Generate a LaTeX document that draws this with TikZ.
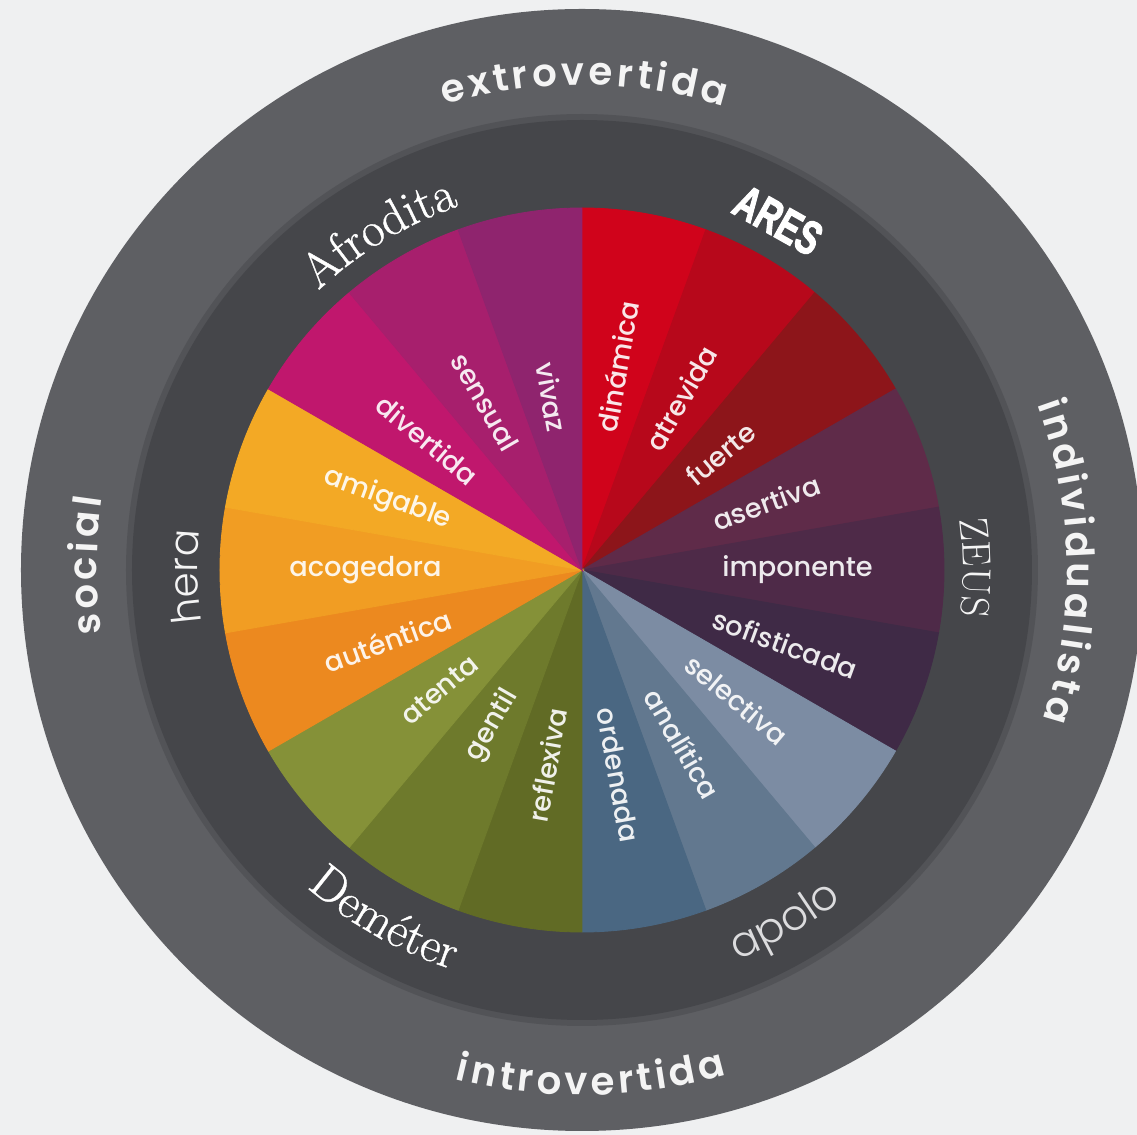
\documentclass[tikz,border=0pt]{standalone}
\usepackage{fontspec}
\usetikzlibrary{decorations.text}

\newfontfamily\traitfont{Poppins Medium}
\newfontfamily\outerfont{Poppins SemiBold}
\newfontfamily\thinfont{Poppins Light}
\newfontfamily\godserif{Latin Modern Roman}[FakeBold=0.8]
\newfontfamily\aresfont{Liberation Sans}[BoldFeatures={FakeBold=2.5}]

\definecolor{bg}{HTML}{EFF0F1}
\definecolor{outerring}{HTML}{5E5F63}
\definecolor{seam}{HTML}{525357}
\definecolor{innerring}{HTML}{45464A}
\definecolor{ringtxt}{HTML}{F4F4F4}
\definecolor{softtxt}{HTML}{DCDCDE}
\definecolor{cDinamica}{HTML}{D0031B}
\definecolor{cAtrevida}{HTML}{B7081B}
\definecolor{cFuerte}{HTML}{8D151A}
\definecolor{cAsertiva}{HTML}{5F2B49}
\definecolor{cImponente}{HTML}{4E2A48}
\definecolor{cSofisticada}{HTML}{3F2A46}
\definecolor{cSelectiva}{HTML}{7C8CA3}
\definecolor{cAnalitica}{HTML}{62788F}
\definecolor{cOrdenada}{HTML}{4A6782}
\definecolor{cReflexiva}{HTML}{616B25}
\definecolor{cGentil}{HTML}{6E7A2C}
\definecolor{cAtenta}{HTML}{859138}
\definecolor{cAutentica}{HTML}{EC891F}
\definecolor{cAcogedora}{HTML}{F19D23}
\definecolor{cAmigable}{HTML}{F3A925}
\definecolor{cDivertida}{HTML}{C0176D}
\definecolor{cSensual}{HTML}{A71F6D}
\definecolor{cVivaz}{HTML}{8F246E}

\newcommand\ringfont{\outerfont\fontsize{22}{22}\selectfont}

\begin{document}
\begin{tikzpicture}[x=0.02cm, y=0.02cm]
\tikzset{
    wedge/.style = {line width=0.5pt},
    trait/.style = {font=\traitfont\fontsize{15.5}{15.5}\selectfont, text=white, text opacity=0.9, inner sep=0pt},
    ringlabel/.style = {decorate, decoration={text along path, text align=fit to path, text color=ringtxt}},
    godlabel/.style = {decorate, decoration={text along path, text align=center, text color=#1}},
    godlabel/.default = white
}
\def\traits{
    90/cDinamica/dinamica/dinámica/west/80,
    70/cAtrevida/atrevida/atrevida/west/60,
    50/cFuerte/fuerte/fuerte/west/40,
    30/cAsertiva/asertiva/asertiva/west/20,
    10/cImponente/imponente/imponente/west/0,
    -10/cSofisticada/sofisticada/sofisticada/west/-20,
    -30/cSelectiva/selectiva/selectiva/west/-40,
    -50/cAnalitica/analitica/analítica/west/-60,
    -70/cOrdenada/ordenada/ordenada/west/-80,
    -90/cReflexiva/reflexiva/reflexiva/east/80,
    -110/cGentil/gentil/gentil/east/60,
    -130/cAtenta/atenta/atenta/east/40,
    -150/cAutentica/autentica/auténtica/east/20,
    -170/cAcogedora/acogedora/acogedora/east/0,
    -190/cAmigable/amigable/amigable/east/-20,
    -210/cDivertida/divertida/divertida/east/-40,
    -230/cSensual/sensual/sensual/east/-60,
    -250/cVivaz/vivaz/vivaz/east/-80}

\useasboundingbox (-582,-565) rectangle (555,570);
\fill[bg] (-582,-565) rectangle (555,570);
\clip (-582,-565) rectangle (555,570);

% rings
\fill[outerring] (0,0) circle[radius=561];
\fill[seam] (0,0) circle[radius=456];
\fill[innerring] (0,0) circle[radius=450];

% wedges
\foreach \a/\col/\nm/\txt/\anc/\rot in \traits {
    \fill[\col, draw=\col, wedge] (0,0) -- (\a:362) arc[start angle=\a, delta angle=-20, radius=362] -- cycle;
}
\foreach \a/\col/\nm/\txt/\anc/\rot in \traits {
    \node[trait, anchor=\anc, rotate=\rot] (\nm) at (\a-10:140) {\txt};
}

% gods
\path[godlabel, decoration={text={|\godserif\fontsize{28}{28}\selectfont|Afrodita}}]
    (151:384) arc[start angle=151, end angle=91, radius=384];
\node[rotate=-29.3, text=white, inner sep=0pt, font=\aresfont\bfseries\fontsize{27}{27}\selectfont]
    (ares) at (60.7:401) {\scalebox{0.7}[1]{ARES}};
\path[godlabel=ringtxt, decoration={text={|\thinfont\fontsize{23}{23}\selectfont|hera}}]
    (211:384) arc[start angle=211, end angle=151, radius=384];
\path[godlabel=ringtxt, decoration={text={|\rmfamily\fontsize{23}{23}\selectfont|ZEUS}}]
    (30.4:381) arc[start angle=30.4, end angle=-29.6, radius=381];
\path[godlabel, decoration={text={|\godserif\fontsize{28}{28}\selectfont|Deméter}}]
    (210.5:420) arc[start angle=210.5, end angle=270.5, radius=420];
\path[godlabel=softtxt, decoration={text={|\thinfont\fontsize{24}{24}\selectfont|apolo}}]
    (270:420) arc[start angle=270, end angle=330, radius=420];

% outer ring
\path[ringlabel, decoration={text={|\ringfont|extrovertida}}]
    (106.5:485) arc[start angle=106.5, end angle=73, radius=485];
\path[ringlabel, decoration={text={|\ringfont|individualista}}]
    (20:485) arc[start angle=20, end angle=-18, radius=485];
\path[ringlabel, decoration={text={|\ringfont|introvertida}}]
    (256:525) arc[start angle=256, end angle=286, radius=525];
\path[ringlabel, decoration={text={|\ringfont|social}}]
    (187.5:485) arc[start angle=187.5, end angle=171.5, radius=485];
\end{tikzpicture}
\end{document}
